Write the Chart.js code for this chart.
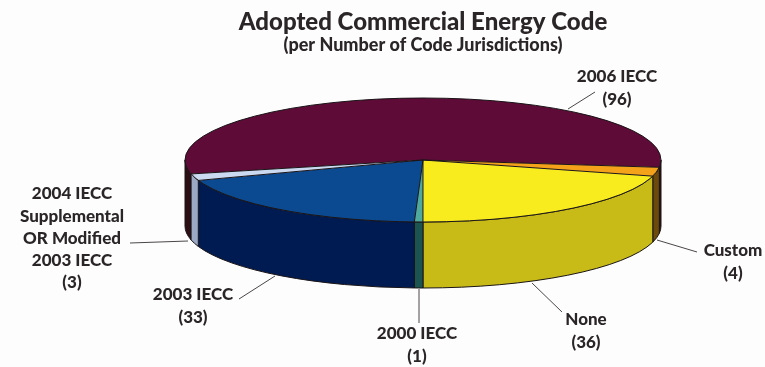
<!DOCTYPE html>
<html>
<head>
<meta charset="utf-8">
<title>Adopted Commercial Energy Code</title>
<script src="https://cdn.jsdelivr.net/npm/chart.js@4/dist/chart.umd.js"></script>
<style>
  html, body { margin: 0; background: #fdfdfd; }
  canvas { display: block; }
</style>
</head>
<body>
<canvas id="energyChart" width="765" height="367"></canvas>
<script>
const categories = ['2006 IECC', 'Custom', 'None', '2000 IECC', '2003 IECC', '2004 IECC Supplemental OR Modified 2003 IECC'];
const jurisdictions = [96, 4, 36, 1, 33, 3];
const topColors = ['#5e0b38', '#f5a21b', '#f8ec1f', '#50a99f', '#0b4a91', '#cbdaf1'];
const wallColors = ['#2c0e15', '#6b4a0c', '#c8bb17', '#1b5450', '#001b52', '#9ba9c4'];
const labelLines = [['2006 IECC'], ['Custom'], ['None'], ['2000 IECC'], ['2003 IECC'],
  ['2004 IECC', 'Supplemental', 'OR Modified', '2003 IECC']];

// where each label sits and its leader line, same order as categories
const labelSpots = [
  { x: 617, y: 77, line: [568, 109, 595, 92] },
  { x: 733, y: 251, line: [657, 240, 697, 252] },
  { x: 586, y: 320, line: [532, 283, 562, 312] },
  { x: 417, y: 334, line: [419, 289, 419, 323] },
  { x: 193, y: 295, line: [275, 276, 239, 299] },
  { x: 72, y: 194, line: [188, 241, 130, 243] }
];

const RX = 238, RY = 62, DEPTH = 66;
const FONT = 'Lato';

function ellipsePt(a, cx, cy) {
  return [cx + RX * Math.cos(a), cy + RY * Math.sin(a)];
}

const pie3d = {
  id: 'pie3d',
  beforeDatasetsDraw(chart) {
    const ctx = chart.ctx;
    const arcs = chart.getDatasetMeta(0).data;
    const cx = arcs[0].x, cy = arcs[0].y;
    ctx.save();
    ctx.lineWidth = 1;
    ctx.strokeStyle = '#1a1416';
    arcs.forEach((arc, i) => {
      // only the part of a slice on the front half gets a wall
      [-2, 0, 2].forEach(k => {
        const from = Math.max(arc.startAngle + k * Math.PI, 0);
        const to = Math.min(arc.endAngle + k * Math.PI, Math.PI);
        if (to <= from) return;
        ctx.beginPath();
        ctx.ellipse(cx, cy, RX, RY, 0, from, to);
        ctx.ellipse(cx, cy + DEPTH, RX, RY, 0, to, from, true);
        ctx.closePath();
        ctx.fillStyle = wallColors[i];
        ctx.fill();
        ctx.stroke();
      });
    });
    ctx.restore();
    // squash the round pie into the top ellipse
    const r = arcs[0].outerRadius;
    ctx.save();
    ctx.translate(cx, cy);
    ctx.scale(RX / r, RY / r);
    ctx.translate(-cx, -cy);
  },
  afterDatasetsDraw(chart) {
    const ctx = chart.ctx;
    ctx.restore();
    const arcs = chart.getDatasetMeta(0).data;
    const cx = arcs[0].x, cy = arcs[0].y;
    ctx.save();
    ctx.lineWidth = 1;
    ctx.strokeStyle = '#1a1416';
    arcs.forEach(arc => {
      const p = ellipsePt(arc.startAngle, cx, cy);
      ctx.beginPath();
      ctx.moveTo(cx, cy);
      ctx.lineTo(p[0], p[1]);
      ctx.stroke();
    });
    ctx.beginPath();
    ctx.ellipse(cx, cy, RX, RY, 0, 0, Math.PI * 2);
    ctx.stroke();

    ctx.strokeStyle = '#4a4647';
    ctx.fillStyle = '#2a2627';
    ctx.font = '900 17px ' + FONT;
    ctx.textAlign = 'center';
    ctx.textBaseline = 'middle';
    labelSpots.forEach((spot, i) => {
      const l = spot.line;
      ctx.beginPath();
      ctx.moveTo(l[0], l[1]);
      ctx.lineTo(l[2], l[3]);
      ctx.stroke();
      const lines = labelLines[i].concat('(' + jurisdictions[i] + ')');
      lines.forEach((txt, n) => {
        ctx.fillText(txt, spot.x, spot.y + n * 22.2);
      });
    });
    ctx.restore();
  }
};

new Chart(document.getElementById('energyChart'), {
  type: 'pie',
  data: {
    labels: categories,
    datasets: [{
      data: jurisdictions,
      backgroundColor: topColors,
      borderWidth: 0
    }]
  },
  options: {
    responsive: false,
    animation: false,
    rotation: 257,
    layout: { padding: { left: 81, right: 0, top: 10, bottom: 102.6 } },
    plugins: {
      legend: { display: false },
      tooltip: { enabled: false },
      title: {
        display: true,
        text: 'Adopted Commercial Energy Code',
        color: '#2a2627',
        font: { family: FONT, size: 24, weight: '900', lineHeight: 1 },
        padding: { top: 0, bottom: 0 }
      },
      subtitle: {
        display: true,
        text: '(per Number of Code Jurisdictions)',
        color: '#2a2627',
        font: { family: FONT, size: 18, weight: '900' },
        padding: { top: 0, bottom: 0 }
      }
    }
  },
  plugins: [pie3d]
});
</script>
</body>
</html>
